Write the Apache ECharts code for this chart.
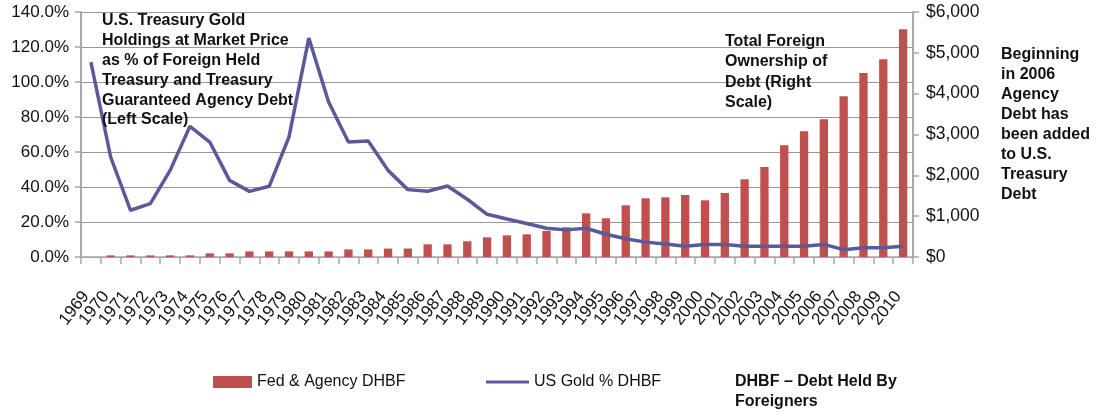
<!DOCTYPE html>
<html>
<head>
<meta charset="utf-8">
<script src="https://cdn.jsdelivr.net/npm/echarts@6/dist/echarts.min.js"></script>
<style>
  html, body { margin: 0; padding: 0; background: #ffffff; }
  #chart { width: 1096px; height: 415px; }
</style>
</head>
<body>
<div id="chart"></div>
<script>
// Years on the category axis
const years = ['1969','1970','1971','1972','1973','1974','1975','1976','1977','1978',
  '1979','1980','1981','1982','1983','1984','1985','1986','1987','1988',
  '1989','1990','1991','1992','1993','1994','1995','1996','1997','1998',
  '1999','2000','2001','2002','2003','2004','2005','2006','2007','2008',
  '2009','2010'];

// Foreign held Treasury + agency debt, $ billions (right scale)
const debtHeldByForeigners = [null, 40, 40, 40, 40, 40, 90, 90, 137, 137,
  137, 137, 137, 186, 186, 207, 207, 310, 310, 384,
  482, 531, 555, 640, 727, 1070, 947, 1266, 1437, 1461,
  1518, 1388, 1567, 1903, 2204, 2735, 3078, 3372, 3935, 4506,
  4841, 5576];

// Treasury gold at market price as % of foreign held debt (left scale)
const goldPctOfDebt = [111.4, 57.0, 26.7, 30.5, 49.5, 74.7, 65.7, 43.8, 37.5, 40.4,
  68.6, 125.1, 88.6, 65.7, 66.3, 49.5, 38.5, 37.6, 40.6, 33.0,
  24.4, 21.7, 19.1, 16.4, 15.5, 16.4, 13.0, 10.4, 8.5, 7.4,
  6.1, 7.2, 7.2, 6.1, 6.1, 6.1, 6.1, 7.2, 4.2, 5.3,
  5.3, 6.1];

// Axis tick settings
const leftTicks = { min: 0, max: 140, interval: 20 };
const rightTicks = { min: 0, max: 6000, interval: 1000 };

const BAR_NAME = 'Fed & Agency DHBF';
const LINE_NAME = 'US Gold % DHBF';

const FONT = '"Liberation Sans", Arial, sans-serif';
const AXIS_GREY = '#a8a8a8';
const GRID_GREY = '#989898';
const BAR_RED = '#c0504d';
const LINE_BLUE = '#5a5a9a';

const chart = echarts.init(document.getElementById('chart'), null, { renderer: 'canvas' });

const boldText = (text, x, y, lh) => ({
  type: 'text',
  z: 100,
  style: {
    text: text,
    x: x,
    y: y,
    fill: '#111111',
    fontFamily: FONT,
    fontWeight: 'bold',
    fontSize: 16,
    lineHeight: lh,
    align: 'left',
    verticalAlign: 'top'
  }
});

chart.setOption({
  animation: false,
  backgroundColor: '#ffffff',
  grid: { left: 81, right: 183, top: 12, bottom: 158, containLabel: false },
  legend: [
    {
      data: [BAR_NAME],
      left: 208, top: 369,
      itemWidth: 39, itemHeight: 12,
      icon: 'rect',
      textStyle: { fontFamily: FONT, fontSize: 16, color: '#111' }
    },
    {
      data: [{ name: LINE_NAME, icon: 'rect', itemStyle: { color: LINE_BLUE } }],
      left: 481, top: 369,
      itemWidth: 43, itemHeight: 3,
      itemGap: 4,
      textStyle: { fontFamily: FONT, fontSize: 16, color: '#111' }
    }
  ],
  xAxis: {
    type: 'category',
    data: years,
    boundaryGap: true,
    axisLine: { show: true, lineStyle: { color: AXIS_GREY, width: 1.5 } },
    axisTick: { show: true, interval: 0, length: 7, lineStyle: { color: AXIS_GREY, width: 1.5 } },
    axisLabel: {
      interval: 0,
      rotate: 52,
      margin: 30,
      padding: [0, 8, 0, 0],
      fontFamily: FONT,
      fontSize: 17,
      color: '#111'
    },
    splitLine: { show: false }
  },
  yAxis: [
    {
      type: 'value',
      min: leftTicks.min, max: leftTicks.max, interval: leftTicks.interval,
      axisLine: { show: true, lineStyle: { color: AXIS_GREY, width: 2 } },
      axisTick: { show: true, length: 6, lineStyle: { color: AXIS_GREY, width: 1.5 } },
      axisLabel: {
        margin: 12,
        padding: [5, 0, 0, 0],
        fontFamily: FONT, fontSize: 17, color: '#111',
        formatter: v => v.toFixed(1) + '%'
      },
      splitLine: { show: true, lineStyle: { color: GRID_GREY, width: 1 } }
    },
    {
      type: 'value',
      min: rightTicks.min, max: rightTicks.max, interval: rightTicks.interval,
      position: 'right',
      axisLine: { show: true, lineStyle: { color: AXIS_GREY, width: 2 } },
      axisTick: { show: true, length: 6, lineStyle: { color: AXIS_GREY, width: 1.5 } },
      axisLabel: {
        margin: 13,
        padding: [5, 0, 0, 0],
        fontFamily: FONT, fontSize: 17.5, color: '#111',
        formatter: v => '$' + v.toLocaleString('en-US')
      },
      splitLine: { show: false }
    }
  ],
  series: [
    {
      name: BAR_NAME,
      type: 'bar',
      yAxisIndex: 1,
      data: debtHeldByForeigners,
      barWidth: '42%',
      itemStyle: { color: BAR_RED },
      z: 2
    },
    {
      name: LINE_NAME,
      type: 'line',
      yAxisIndex: 0,
      data: goldPctOfDebt,
      symbol: 'none',
      smooth: false,
      lineStyle: { color: LINE_BLUE, width: 3.5 },
      itemStyle: { color: LINE_BLUE },
      z: 3
    }
  ],
  graphic: [
    boldText('U.S. Treasury Gold\nHoldings at Market Price\nas % of Foreign Held\nTreasury and Treasury\nGuaranteed Agency Debt\n(Left Scale)', 102, 11, 19.8),
    boldText('Total Foreign\nOwnership of\nDebt (Right\nScale)', 725, 31, 20.5),
    boldText('Beginning\nin 2006\nAgency\nDebt has\nbeen added\nto U.S.\nTreasury\nDebt', 1001, 45, 20),
    boldText('DHBF \u2013 Debt Held By\nForeigners', 735, 372, 20)
  ]
});
</script>
</body>
</html>
